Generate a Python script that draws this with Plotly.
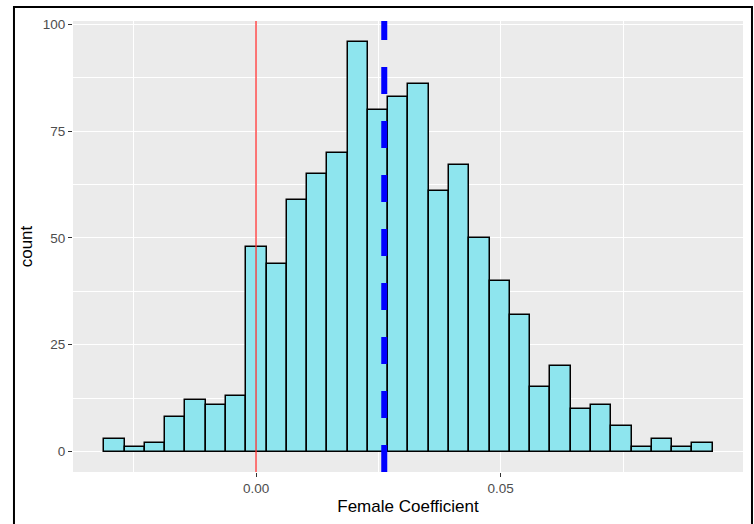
import plotly.graph_objects as go

# Histogram data (30 bins)
bin_start = -0.0310
bin_width = 0.004143
counts = [3, 1, 2, 8, 12, 11, 13, 48, 44, 59, 65, 70, 96, 80, 83,
          86, 61, 67, 50, 40, 32, 15, 20, 10, 11, 6, 1, 3, 1, 2]
ref_line = 0.0
mean_line = 0.0262
x_tickvals = [0.0, 0.05]
x_ticktext = ["0.00", "0.05"]
y_tickvals = [0, 25, 50, 75, 100]

centers = [bin_start + bin_width * (i + 0.5) for i in range(len(counts))]

FONT = "Liberation Sans, Arial, Helvetica, sans-serif"

fig = go.Figure()
fig.add_trace(go.Bar(
    x=centers, y=counts, width=[bin_width] * len(counts),
    marker=dict(color="#8EE5EE", line=dict(color="black", width=1.5)),
    hoverinfo="x+y",
))

fig.add_shape(type="line", xref="x", yref="paper", x0=ref_line, x1=ref_line,
              y0=0, y1=1, line=dict(color="#FF3030", width=1.3))
fig.add_shape(type="line", xref="x", yref="paper", x0=mean_line, x1=mean_line,
              y0=0, y1=1, line=dict(color="#0000FF", width=6, dash="27px,27px"))
# outer frame
fig.add_shape(type="rect", xref="paper", yref="paper",
              x0=-0.0881, x1=1.0134, y0=-0.2, y1=1.031,
              line=dict(color="black", width=2), fillcolor="rgba(0,0,0,0)",
              layer="above")

fig.update_layout(
    width=754, height=524,
    margin=dict(l=73, r=11, t=21, b=52),
    paper_bgcolor="white",
    plot_bgcolor="#EBEBEB",
    showlegend=False,
    bargap=0,
    font=dict(family=FONT, color="#4D4D4D", size=13.5),
    xaxis=dict(
        range=[-0.0374, 0.0995],
        tickvals=x_tickvals, ticktext=x_ticktext,
        automargin=False,
        showgrid=True, gridcolor="white", gridwidth=1.4,
        minor=dict(dtick=0.025, tick0=0, showgrid=True, gridcolor="white", gridwidth=0.7),
        zeroline=False, showline=False,
        ticks="outside", ticklen=4, tickwidth=1.1, tickcolor="#333333",
        tickfont=dict(size=13.5, color="#4D4D4D"),
        title=dict(text="Female Coefficient", font=dict(size=17, color="black"), standoff=4),
    ),
    yaxis=dict(
        range=[-4.8, 100.8],
        tickvals=y_tickvals,
        automargin=False,
        showgrid=True, gridcolor="white", gridwidth=1.4,
        minor=dict(dtick=12.5, tick0=0, showgrid=True, gridcolor="white", gridwidth=0.7),
        zeroline=False, showline=False,
        ticks="outside", ticklen=4, tickwidth=1.1, tickcolor="#333333",
        tickfont=dict(size=13.5, color="#4D4D4D"),
        title=dict(text="count", font=dict(size=17, color="black"), standoff=5),
    ),
)

fig.write_html("out.html",
               config={"displayModeBar": False},
               post_script="document.body.style.margin='0';document.body.style.padding='0';")
